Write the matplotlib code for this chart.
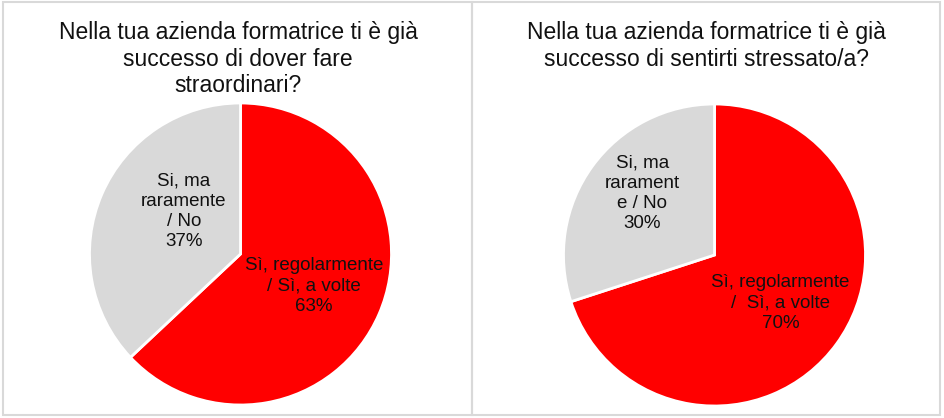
import numpy as np
import matplotlib.pyplot as plt
from matplotlib.patches import Rectangle

plt.rcParams['font.family'] = ['Liberation Sans', 'DejaVu Sans']

# Data
titles = [
    'Nella tua azienda formatrice ti è già\nsuccesso di dover fare\nstraordinari?',
    'Nella tua azienda formatrice ti è già\nsuccesso di sentirti stressato/a?',
]
labels_left = ['Sì, regolarmente\n/ Sì, a volte', 'Si, ma\nraramente\n/ No']
labels_right = ['Sì, regolarmente\n/  Sì, a volte', 'Si, ma\nrarament\ne / No']
values_left = [63, 37]
values_right = [70, 30]
colors = ['#FF0000', '#D9D9D9']

W, H = 944, 418
fig = plt.figure(figsize=(W / 100, H / 100), dpi=100)

# panel borders (pixels)
for x0, x1 in [(3, 472), (472, 940)]:
    fig.add_artist(Rectangle((x0 / W, 1 - 415 / H), (x1 - x0) / W, (415 - 2) / H,
                             transform=fig.transFigure, fill=False,
                             edgecolor='#D9D9D9', linewidth=1.5))

R = 151  # pie radius in pixels
# (center x, center y, title x, values, labels, title, label placement)
# label placement: (angle in deg, radius fraction); red label angle uses wedge mid
panels = [
    (240.5, 254, 238, values_left, labels_left, titles[0],
     [(0, 0.53), (143, 0.47)]),
    (714.5, 255, 706.5, values_right, labels_right, titles[1],
     [(0, 0.54), (139.5, 0.63)]),
]
for cx, cy, tx, vals, labs, title, lpos in panels:
    ax = fig.add_axes([(cx - R) / W, 1 - (cy + R) / H, 2 * R / W, 2 * R / H])
    wedges, _ = ax.pie(vals, colors=colors, startangle=90, counterclock=False,
                       radius=1, wedgeprops=dict(edgecolor='white', linewidth=2))
    ax.set_xlim(-1, 1)
    ax.set_ylim(-1, 1)
    ax.set_aspect('auto')
    ax.axis('off')
    for i, (w, lab, v) in enumerate(zip(wedges, labs, vals)):
        ang, r = lpos[i]
        if i == 0:
            ang = (w.theta1 + w.theta2) / 2
        x = r * np.cos(np.radians(ang))
        y = r * np.sin(np.radians(ang))
        ax.text(x, y, f'{lab}\n{v}%', ha='center', va='center', fontsize=13.5,
                color='#111111', linespacing=1.25)
    fig.text(tx / W, 1 - 21 / H, title, ha='center', va='top', fontsize=16.5,
             color='#111111', linespacing=1.2)

fig.savefig('out.png', dpi=100)
